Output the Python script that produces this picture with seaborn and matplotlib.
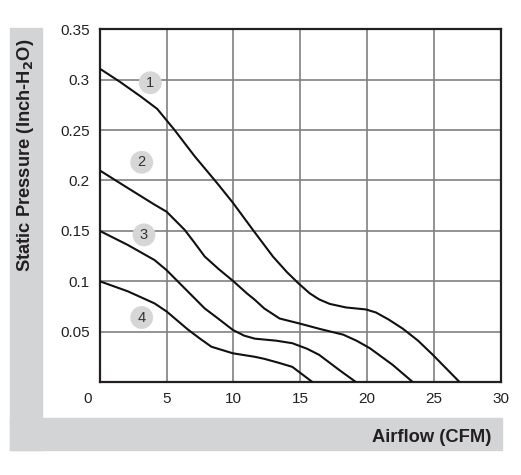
import numpy as np
import pandas as pd
import seaborn as sns
import matplotlib.pyplot as plt
from matplotlib.patches import Rectangle
from matplotlib.transforms import ScaledTranslation

# Data (CFM vs inch-H2O)
c1_x = [0, 1.5, 3.1, 4.3, 5.6, 7.1, 8.8, 9.95, 11.45, 12.95, 14.0, 14.85, 15.7, 16.4, 17.2, 18.4, 19.9, 20.65, 21.6, 22.65, 23.8, 24.9, 26.9]
c1_y = [0.311, 0.298, 0.283, 0.271, 0.25, 0.224, 0.197, 0.178, 0.151, 0.1245, 0.109, 0.098, 0.088, 0.082, 0.0775, 0.074, 0.072, 0.069, 0.062, 0.053, 0.041, 0.027, 0]

c2_x = [0, 2.1, 4.1, 5.0, 6.35, 7.1, 7.85, 8.9, 9.95, 11.0, 11.6, 12.3, 13.45, 14.95, 16.5, 18.2, 19.2, 20.2, 21.9, 23.4]
c2_y = [0.21, 0.1925, 0.176, 0.169, 0.151, 0.138, 0.1245, 0.112, 0.1005, 0.088, 0.0815, 0.073, 0.063, 0.058, 0.0525, 0.047, 0.041, 0.0335, 0.017, 0]

c3_x = [0, 2.1, 4.1, 5.0, 6.35, 7.1, 7.85, 8.85, 9.95, 10.8, 11.6, 12.0, 13.2, 14.4, 15.5, 16.4, 17.9, 19.15]
c3_y = [0.15, 0.136, 0.121, 0.111, 0.093, 0.083, 0.073, 0.063, 0.0517, 0.046, 0.043, 0.0425, 0.041, 0.0385, 0.033, 0.027, 0.012, 0]

c4_x = [0, 2.1, 4.1, 5.0, 5.8, 6.6, 7.5, 8.35, 9.95, 11.6, 12.3, 13.4, 14.4, 15.9]
c4_y = [0.1, 0.09, 0.078, 0.07, 0.061, 0.052, 0.043, 0.035, 0.0285, 0.025, 0.023, 0.019, 0.015, 0]

curve_names = ['1', '2', '3', '4']
label_x = [3.78, 3.14, 3.31, 3.14]
label_y = [0.297, 0.218, 0.146, 0.064]

x_ticks = [0, 5, 10, 15, 20, 25, 30]
y_ticks = [0, 0.05, 0.1, 0.15, 0.2, 0.25, 0.3, 0.35]
y_tick_labels = ['', '0.05', '0.1', '0.15', '0.2', '0.25', '0.3', '0.35']

frames = []
for name, xs, ys in zip(curve_names, [c1_x, c2_x, c3_x, c4_x], [c1_y, c2_y, c3_y, c4_y]):
    frames.append(pd.DataFrame({'airflow': xs, 'pressure': ys, 'curve': name}))
df = pd.concat(frames, ignore_index=True)

sns.set_style('white')
plt.rcParams['font.family'] = ['Liberation Sans', 'DejaVu Sans']

fig = plt.figure(figsize=(5.21, 4.75), dpi=100)

# gray L-shaped frame behind the chart
gray = '#d3d4d6'
fig.add_artist(Rectangle((10 / 521, 25 / 475), 32 / 521, 422 / 475,
                         transform=fig.transFigure, color=gray, zorder=0))
fig.add_artist(Rectangle((10 / 521, 25 / 475), 492 / 521, 32 / 475,
                         transform=fig.transFigure, color=gray, zorder=0))

ax = fig.add_axes([99.7 / 521, 93 / 475, 401.3 / 521, 352.7 / 475])

sns.lineplot(data=df, x='airflow', y='pressure', hue='curve',
             palette=['#111111'] * 4, linewidth=1.5, legend=False,
             sort=False, ax=ax, zorder=3)

ax.scatter(label_x, label_y, s=270, color='#d6d6d6', zorder=4, edgecolors='none')
for name, lx, ly in zip(curve_names, label_x, label_y):
    ax.text(lx, ly, name, ha='center', va='center', fontsize=10.5,
            color='#333333', zorder=5)

ax.set_xlim(0, 30)
ax.set_ylim(0, 0.35)
ax.set_xticks(x_ticks)
ax.set_xticklabels([str(t) for t in x_ticks])
ax.set_yticks(y_ticks)
ax.set_yticklabels(y_tick_labels)
ax.tick_params(length=0, labelsize=11, labelcolor='#222222', pad=7)
ax.grid(True, color='#808080', linewidth=1.2)
ax.set_axisbelow(True)
for s in ax.spines.values():
    s.set_color('#231f20')
    s.set_linewidth(1.6)
ax.set_xlabel('')
ax.set_ylabel('')

# "0" at the origin sits left of the corner
zero_lbl = ax.get_xticklabels()[0]
zero_lbl.set_transform(zero_lbl.get_transform() + ScaledTranslation(-0.12, 0, fig.dpi_scale_trans))

fig.text(26 / 521, 1 - 155 / 475, 'Static Pressure (Inch-H$_\\mathbf{2}$O)',
         rotation=90, ha='center', va='center', fontsize=13.2,
         fontweight='bold', color='#231f20')
fig.text(491 / 521, 1 - 437 / 475, 'Airflow (CFM)', ha='right', va='center',
         fontsize=13.2, fontweight='bold', color='#231f20')

fig.savefig('out.png', dpi=100)
